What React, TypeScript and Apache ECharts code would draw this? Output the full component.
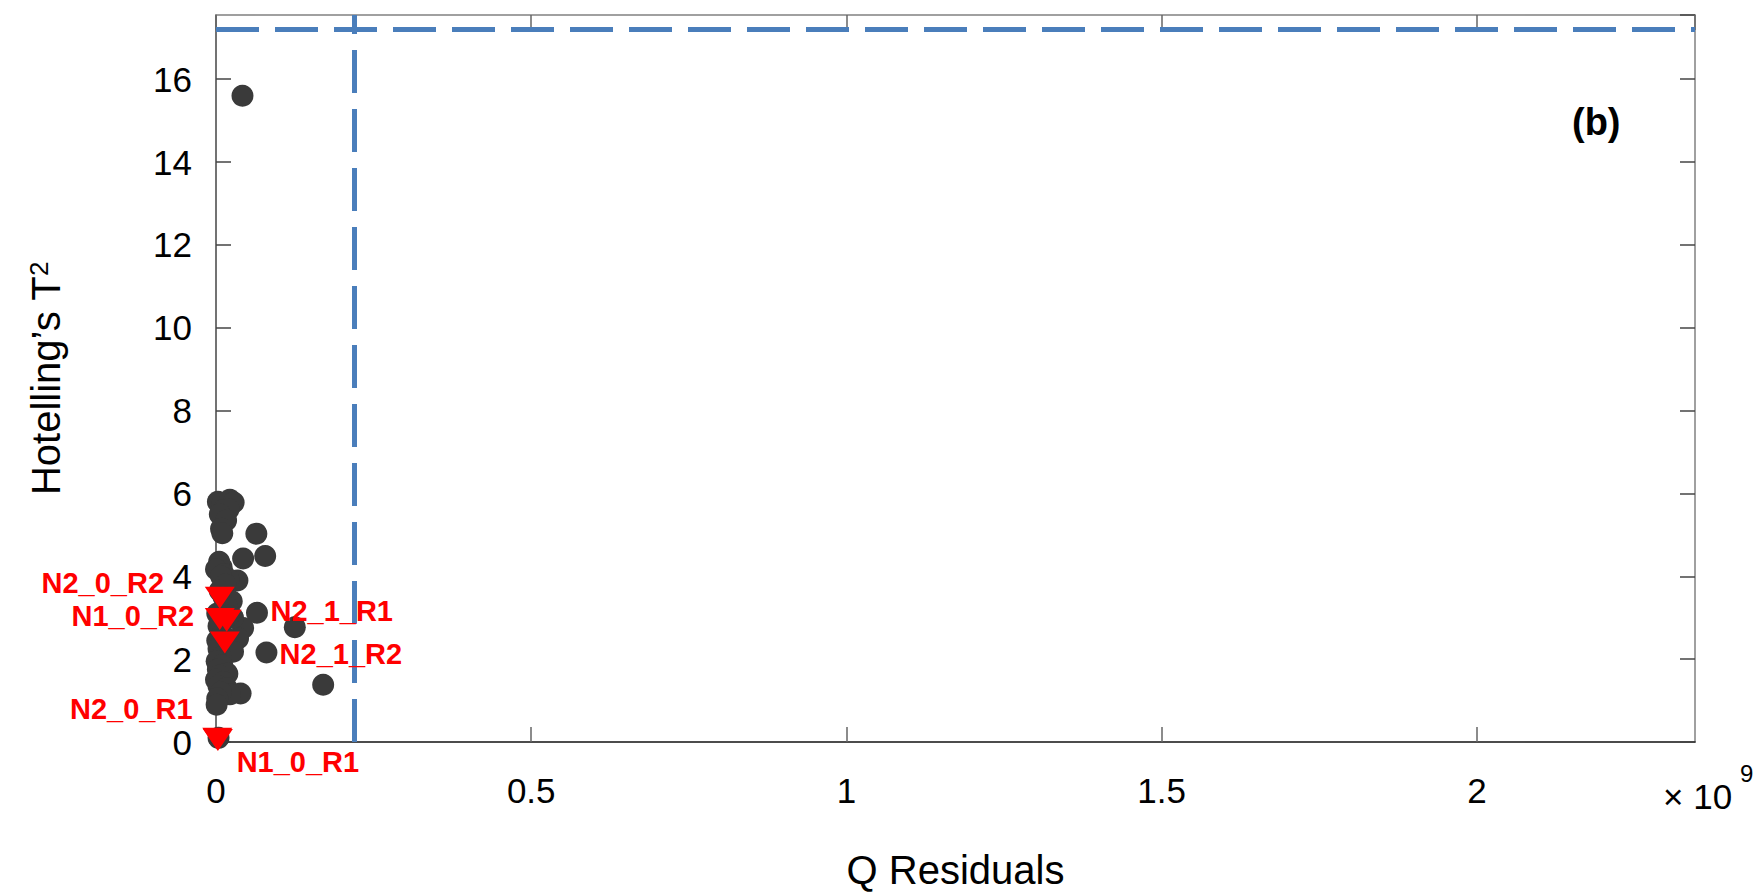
import React, { useEffect, useRef } from "react";
import * as echarts from "echarts";

const FONT = 'Arial, "Liberation Sans", Helvetica, sans-serif';

// Q residuals (units of 1e9) and Hotelling's T^2 for all samples
const sampleQ = [
  0.042, 0.003, 0.010, 0.022, 0.028, 0.012, 0.020, 0.006, 0.016, 0.008,
  0.010, 0.064, 0.043, 0.078, 0.009, 0.005, 0.000, 0.012, 0.034, 0.020,
  0.008, 0.015, 0.006, 0.012, 0.025, 0.018, 0.065, 0.125, 0.043, 0.027,
  0.020, 0.002, 0.004, 0.010, 0.035, 0.002, 0.080, 0.027, 0.004, 0.008,
  0.001, 0.010, 0.003, 0.018, 0.005, 0.000, 0.012, 0.004, 0.017, 0.039,
  0.022, 0.008, 0.002, 0.001, 0.170, 0.004,
];
const sampleT2 = [
  15.6, 5.80, 5.75, 5.85, 5.78, 5.60, 5.62, 5.50, 5.35, 5.15,
  5.04, 5.03, 4.43, 4.49, 4.22, 4.35, 4.17, 4.05, 3.90, 3.92,
  4.00, 3.80, 3.65, 3.50, 3.40, 3.25, 3.12, 2.77, 2.75, 3.00,
  3.05, 3.10, 2.80, 2.60, 2.50, 2.45, 2.16, 2.18, 2.25, 2.05,
  1.95, 1.85, 1.75, 1.65, 1.60, 1.50, 1.45, 1.35, 1.30, 1.17,
  1.15, 1.20, 1.05, 0.90, 1.38, 0.10,
];

// Highlighted samples
const flaggedNames = ["N2_0_R2", "N1_0_R2", "N2_1_R1", "N2_1_R2", "N2_0_R1", "N1_0_R1"];
const flaggedQ = [0.006, 0.006, 0.017, 0.014, 0.002, 0.003];
const flaggedT2 = [3.48, 2.97, 2.93, 2.40, 0.08, 0.05];

// Confidence limits
const qLimit = 0.219;
const t2Limit = 17.2;

// Axis ranges / ticks
const xMin = 0;
const xMax = 2.346;
const xStep = 0.5;
const yMin = 0;
const yMax = 17.55;
const yStep = 2;

// label placement (pixel offsets from the marker centre)
const labelOffsets: Record<string, [number, number]> = {
  N2_0_R2: [-117, -15],
  N1_0_R2: [-87, -3],
  N2_1_R1: [105, -10],
  N2_1_R2: [116, 11],
  N2_0_R1: [-86, -30],
  N1_0_R1: [80, 22],
};

export default function App() {
  const ref = useRef<HTMLDivElement>(null);

  useEffect(() => {
    if (!ref.current) return;
    const chart = echarts.init(ref.current, undefined, { renderer: "svg" });

    const darkData = sampleQ.map((q, i) => [q, sampleT2[i]]);
    const redData = flaggedNames.map((name, i) => ({
      name,
      value: [flaggedQ[i], flaggedT2[i]],
      label: { offset: labelOffsets[name] },
    }));

    const axisTextStyle = { fontFamily: FONT, fontSize: 35, color: "#000" };

    chart.setOption({
      animation: false,
      backgroundColor: "#fff",
      textStyle: { fontFamily: FONT },
      grid: { left: 216, top: 15, right: 60, bottom: 148, containLabel: false },
      xAxis: [
        {
          type: "value",
          min: xMin,
          max: xMax,
          interval: xStep,
          position: "bottom",
          name: "Q Residuals",
          nameLocation: "middle",
          nameGap: 108,
          nameTextStyle: { fontFamily: FONT, fontSize: 40, color: "#000" },
          axisLine: { show: true, onZero: false, lineStyle: { color: "#111", width: 1.5 } },
          axisTick: { show: true, inside: true, length: 15, lineStyle: { color: "#666", width: 1.5 } },
          axisLabel: {
            ...axisTextStyle,
            margin: 31,
            showMaxLabel: false,
            formatter: (v: number) => String(v),
          },
          splitLine: { show: false },
        },
        {
          type: "value",
          min: xMin,
          max: xMax,
          interval: xStep,
          position: "top",
          axisLine: { show: true, onZero: false, lineStyle: { color: "#808080", width: 1.5 } },
          axisTick: { show: true, inside: true, length: 15, lineStyle: { color: "#666", width: 1.5 } },
          axisLabel: { show: false },
          splitLine: { show: false },
        },
      ],
      yAxis: [
        {
          type: "value",
          min: yMin,
          max: yMax,
          interval: yStep,
          position: "left",
          name: "Hotelling\u2019s T{sup|2}",
          nameLocation: "middle",
          nameGap: 150,
          nameTextStyle: {
            fontFamily: FONT,
            fontSize: 40,
            color: "#000",
            rich: {
              sup: { fontFamily: FONT, fontSize: 26, color: "#000", verticalAlign: "top", lineHeight: 26 },
            },
          },
          axisLine: { show: true, onZero: false, lineStyle: { color: "#444", width: 1.5 } },
          axisTick: { show: true, inside: true, length: 15, lineStyle: { color: "#444", width: 1.5 } },
          axisLabel: { ...axisTextStyle, lineHeight: 28, margin: 24, showMaxLabel: false },
          splitLine: { show: false },
        },
        {
          type: "value",
          min: yMin,
          max: yMax,
          interval: yStep,
          position: "right",
          axisLine: { show: true, onZero: false, lineStyle: { color: "#808080", width: 1.5 } },
          axisTick: { show: true, inside: true, length: 15, lineStyle: { color: "#444", width: 1.5 } },
          axisLabel: { show: false },
          splitLine: { show: false },
        },
      ],
      series: [
        {
          type: "scatter",
          xAxisIndex: 0,
          yAxisIndex: 0,
          data: darkData,
          symbol: "circle",
          symbolSize: 22,
          itemStyle: { color: "#3a3a3a", opacity: 1 },
          z: 3,
          markLine: {
            silent: true,
            symbol: ["none", "none"],
            label: { show: false },
            lineStyle: { color: "#4a7ebb", width: 5, type: [43, 16], opacity: 1 },
            data: [{ xAxis: qLimit }, { yAxis: t2Limit }],
            z: 2,
          },
        },
        {
          type: "scatter",
          xAxisIndex: 0,
          yAxisIndex: 0,
          data: redData,
          symbol: "path://M0,0 L30,0 L15,22 Z",
          symbolSize: [30, 22],
          itemStyle: { color: "#ff0000", opacity: 1 },
          z: 5,
          label: {
            show: true,
            position: "inside",
            formatter: "{b}",
            fontFamily: FONT,
            fontWeight: "bold",
            fontSize: 29,
            lineHeight: 23,
            color: "#ff0000",
            opacity: 1,
            textBorderWidth: 0,
          },
        },
      ],
      graphic: [
        {
          type: "text",
          left: 1572,
          top: 103,
          style: { text: "(b)", font: `bold 38px ${FONT}`, fill: "#000" },
        },
        {
          type: "text",
          x: 1663,
          y: 796,
          style: { text: "\u00d7 10", font: `35px ${FONT}`, fill: "#000", verticalAlign: "middle", align: "left" },
        },
        {
          type: "text",
          x: 1740,
          y: 773,
          style: { text: "9", font: `24px ${FONT}`, fill: "#000", verticalAlign: "middle", align: "left" },
        },
      ],
    });

    return () => chart.dispose();
  }, []);

  return (
    <div
      ref={ref}
      style={{ position: "fixed", left: 0, top: 0, width: 1755, height: 895, background: "#fff" }}
    />
  );
}
